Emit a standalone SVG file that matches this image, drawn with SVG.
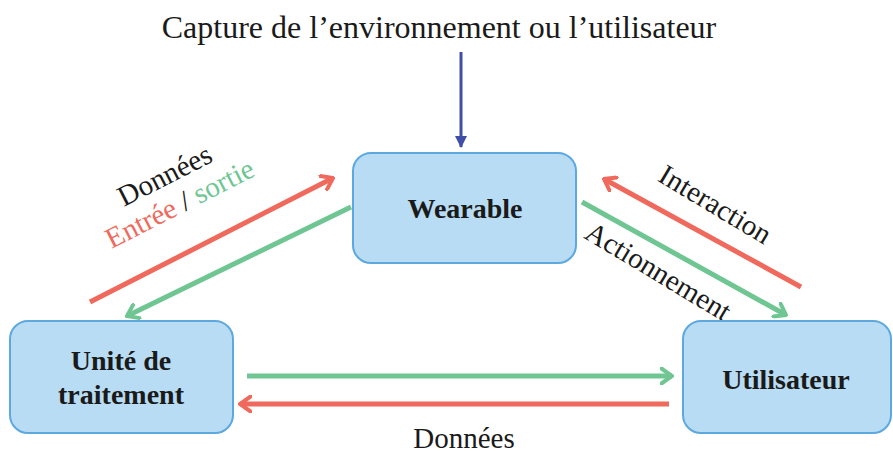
<svg xmlns="http://www.w3.org/2000/svg" width="893" height="453" viewBox="0 0 893 453">
<style>
.box{fill:#b8dcf3;stroke:#5ca8df;stroke-width:2}
.bt{font-family:'Liberation Serif','Times New Roman',serif;font-weight:bold;font-size:28px;fill:#1a1a1a;text-anchor:middle}
.lbl{font-family:'Liberation Serif','Times New Roman',serif;font-size:29px;fill:#1a1a1a;text-anchor:middle}
.red{stroke:#ef6a5c;stroke-width:5;fill:none}
.green{stroke:#6fc692;stroke-width:5;fill:none}
.blue{stroke:#3f4fa6;stroke-width:3;fill:none}
</style>
<defs>
<marker id="mr" viewBox="0 0 14 18" refX="12" refY="9" markerWidth="14" markerHeight="18" markerUnits="userSpaceOnUse" orient="auto">
<path d="M1.5,1.5 L12,9 L1.5,16.5" fill="none" stroke="#ef6a5c" stroke-width="4" stroke-linecap="round" stroke-linejoin="miter"/>
</marker>
<marker id="mg" viewBox="0 0 14 18" refX="12" refY="9" markerWidth="14" markerHeight="18" markerUnits="userSpaceOnUse" orient="auto">
<path d="M1.5,1.5 L12,9 L1.5,16.5" fill="none" stroke="#6fc692" stroke-width="4" stroke-linecap="round" stroke-linejoin="miter"/>
</marker>
<marker id="mb" viewBox="0 0 12 12" refX="11" refY="6" markerWidth="12" markerHeight="12" markerUnits="userSpaceOnUse" orient="auto">
<path d="M0,0 L12,6 L0,12 Z" fill="#3f4fa6"/>
</marker>
</defs>
<text x="439" y="38" font-family="'Liberation Serif','Times New Roman',serif" font-size="32" fill="#1a1a1a" text-anchor="middle">Capture de l’environnement ou l’utilisateur</text>
<g id="connectors">
<line class="blue" x1="461" y1="52" x2="461" y2="147" marker-end="url(#mb)"/>
<line class="red" x1="90" y1="302" x2="333" y2="178" marker-end="url(#mr)"/>
<line class="green" x1="351" y1="207" x2="127" y2="316" marker-end="url(#mg)"/>
<line class="red" x1="801" y1="287" x2="604" y2="179" marker-end="url(#mr)"/>
<line class="green" x1="582" y1="202" x2="786" y2="315" marker-end="url(#mg)"/>
<line class="green" x1="247" y1="376" x2="672" y2="376" marker-end="url(#mg)"/>
<line class="red" x1="669" y1="404" x2="240" y2="404" marker-end="url(#mr)"/>
<text class="lbl" transform="rotate(-27 165 176)" x="165" y="185">Données</text>
<text class="lbl" transform="rotate(-27 180 204)" x="180" y="213"><tspan fill="#ef6a5c">Entrée</tspan> / <tspan fill="#6fc692">sortie</tspan></text>
<text class="lbl" transform="rotate(31 715 205)" x="715" y="214">Interaction</text>
<text class="lbl" transform="rotate(31 658 272)" x="658" y="281">Actionnement</text>
<text class="lbl" x="464" y="448">Données</text>
</g>
<g id="wearable">
<rect class="box" x="353" y="153" width="223" height="110" rx="18"/>
<text class="bt" x="465" y="218">Wearable</text>
</g>
<g id="unite">
<rect class="box" x="10" y="321" width="223" height="112" rx="18"/>
<text class="bt" x="121" y="370">Unité de</text>
<text class="bt" x="121" y="404">traitement</text>
</g>
<g id="utilisateur">
<rect class="box" x="683" y="321" width="208" height="112" rx="18"/>
<text class="bt" x="786" y="389">Utilisateur</text>
</g>
</svg>
